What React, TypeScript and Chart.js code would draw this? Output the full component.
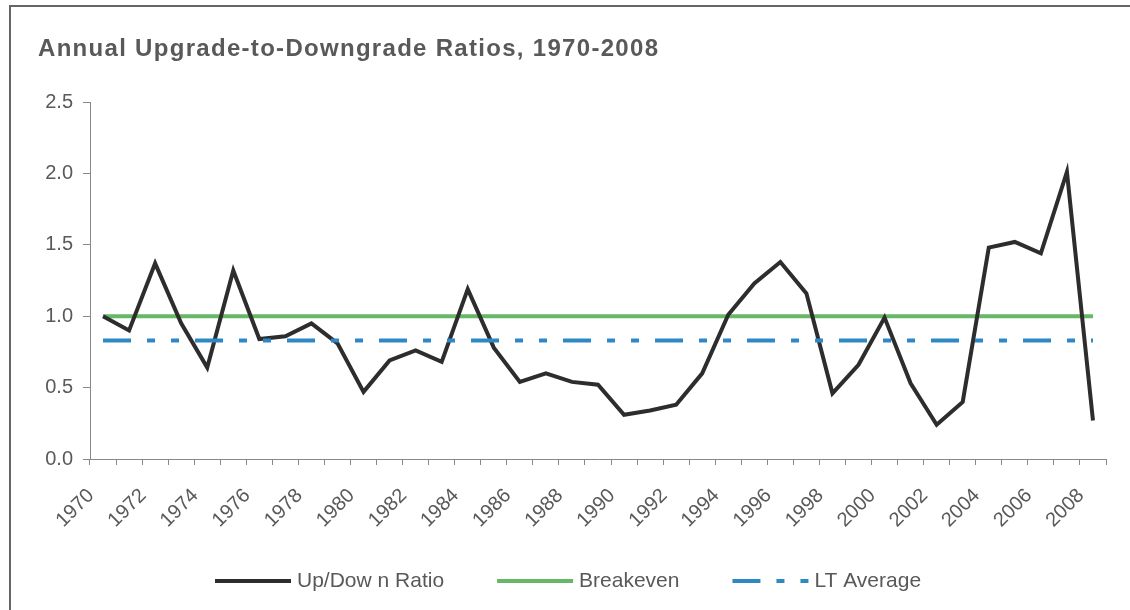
import React, { useEffect, useRef } from "react";
import { Chart, registerables } from "chart.js";

Chart.register(...registerables);

const TITLE = "Annual Upgrade-to-Downgrade Ratios, 1970-2008";

const years = [
  "1970", "1971", "1972", "1973", "1974", "1975", "1976", "1977", "1978", "1979",
  "1980", "1981", "1982", "1983", "1984", "1985", "1986", "1987", "1988", "1989",
  "1990", "1991", "1992", "1993", "1994", "1995", "1996", "1997", "1998", "1999",
  "2000", "2001", "2002", "2003", "2004", "2005", "2006", "2007", "2008",
];

const upDownRatio = [
  1.0, 0.9, 1.37, 0.95, 0.64, 1.32, 0.84, 0.86, 0.95, 0.81,
  0.47, 0.69, 0.76, 0.68, 1.19, 0.78, 0.54, 0.6, 0.54, 0.52,
  0.31, 0.34, 0.38, 0.6, 1.01, 1.23, 1.38, 1.16, 0.46, 0.66,
  0.99, 0.53, 0.24, 0.4, 1.48, 1.52, 1.44, 2.01, 0.27,
];

const breakeven = [
  1.0, 1.0, 1.0, 1.0, 1.0, 1.0, 1.0, 1.0, 1.0, 1.0,
  1.0, 1.0, 1.0, 1.0, 1.0, 1.0, 1.0, 1.0, 1.0, 1.0,
  1.0, 1.0, 1.0, 1.0, 1.0, 1.0, 1.0, 1.0, 1.0, 1.0,
  1.0, 1.0, 1.0, 1.0, 1.0, 1.0, 1.0, 1.0, 1.0,
];

const ltAverage = [
  0.83, 0.83, 0.83, 0.83, 0.83, 0.83, 0.83, 0.83, 0.83, 0.83,
  0.83, 0.83, 0.83, 0.83, 0.83, 0.83, 0.83, 0.83, 0.83, 0.83,
  0.83, 0.83, 0.83, 0.83, 0.83, 0.83, 0.83, 0.83, 0.83, 0.83,
  0.83, 0.83, 0.83, 0.83, 0.83, 0.83, 0.83, 0.83, 0.83,
];

const seriesLabels = ["Up/Dow n Ratio", "Breakeven", "LT Average"];
const yTicks = [0, 0.5, 1.0, 1.5, 2.0, 2.5];

const FONT = "'Liberation Sans', Arial, sans-serif";
const TEXT = "#595959";
const LT_DASH = [28, 16, 8, 16, 8, 16];

const framePlugin = {
  id: "frameTitleLegend",
  beforeDraw(chart: any) {
    const ctx = chart.ctx;
    ctx.save();
    ctx.fillStyle = "#ffffff";
    ctx.fillRect(0, 0, chart.width, chart.height);
    ctx.fillStyle = "#666666";
    ctx.fillRect(9, 5, chart.width - 9, 2);
    ctx.fillRect(9, 5, 2, chart.height - 5);
    ctx.fillStyle = TEXT;
    ctx.font = `bold 24px ${FONT}`;
    ctx.textBaseline = "alphabetic";
    ctx.textAlign = "left";
    try {
      (ctx as any).letterSpacing = "1.3px";
    } catch (e) {}
    ctx.fillText(TITLE, 38, 56);
    try {
      (ctx as any).letterSpacing = "0px";
    } catch (e) {}
    ctx.restore();
  },
  afterDraw(chart: any) {
    const ctx = chart.ctx;
    ctx.save();
    ctx.font = `21px ${FONT}`;
    ctx.textBaseline = "middle";
    ctx.textAlign = "left";
    const y = 581;
    let x = 215;
    chart.data.datasets.forEach((ds: any) => {
      ctx.strokeStyle = ds.borderColor;
      ctx.lineWidth = ds.borderWidth;
      ctx.lineCap = "butt";
      ctx.setLineDash(ds.borderDash || []);
      ctx.beginPath();
      ctx.moveTo(x, y);
      ctx.lineTo(x + 76, y);
      ctx.stroke();
      ctx.setLineDash([]);
      ctx.fillStyle = TEXT;
      const tx = x + 82;
      ctx.fillText(ds.label, tx, y);
      x = tx + ctx.measureText(ds.label).width + 53;
    });
    ctx.restore();
  },
};

export default function App() {
  const ref = useRef<HTMLCanvasElement | null>(null);
  useEffect(() => {
    if (!ref.current) return;
    const chart = new Chart(ref.current, {
      type: "line",
      data: {
        labels: years,
        datasets: [
          {
            label: seriesLabels[0],
            data: upDownRatio,
            borderColor: "#2d2d2d",
            borderWidth: 4,
            pointRadius: 0,
            tension: 0,
            order: 1,
          },
          {
            label: seriesLabels[1],
            data: breakeven,
            borderColor: "#66b866",
            borderWidth: 4,
            pointRadius: 0,
            order: 2,
          },
          {
            label: seriesLabels[2],
            data: ltAverage,
            borderColor: "#2e88c4",
            borderWidth: 4,
            borderDash: LT_DASH,
            pointRadius: 0,
            order: 0,
          },
        ],
      },
      options: {
        responsive: false,
        animation: false,
        events: [],
        layout: { padding: { left: 0, right: 24, top: 102, bottom: 0 } },
        plugins: {
          legend: { display: false },
          title: { display: false },
          tooltip: { enabled: false },
        },
        scales: {
          x: {
            offset: true,
            grid: {
              offset: true,
              drawOnChartArea: false,
              drawTicks: true,
              tickLength: 6,
              color: "#888888",
            },
            border: { color: "#888888", width: 1 },
            ticks: {
              autoSkip: false,
              maxRotation: 45,
              minRotation: 45,
              color: TEXT,
              font: { family: FONT, size: 20 },
              padding: 19,
              labelOffset: -12,
              callback: (_v: any, i: number) => (i % 2 === 0 ? years[i] : ""),
            },
            afterFit: (scale: any) => {
              scale.height = 610 - 459 - 0;
            },
          },
          y: {
            min: 0,
            max: 2.5,
            afterBuildTicks: (scale: any) => {
              scale.ticks = yTicks.map((v) => ({ value: v }));
            },
            grid: {
              drawOnChartArea: false,
              drawTicks: true,
              tickLength: 7,
              color: "#888888",
            },
            border: { color: "#888888", width: 1 },
            ticks: {
              color: TEXT,
              font: { family: FONT, size: 20 },
              padding: 10,
              callback: (v: any) => Number(v).toFixed(1),
            },
            afterFit: (scale: any) => {
              scale.width = 90;
            },
          },
        },
      },
      plugins: [framePlugin],
    });
    return () => chart.destroy();
  }, []);
  return (
    <div style={{ position: "absolute", left: 0, top: 0, width: 1130, height: 610 }}>
      <canvas ref={ref} width={1130} height={610} style={{ display: "block" }} />
    </div>
  );
}
